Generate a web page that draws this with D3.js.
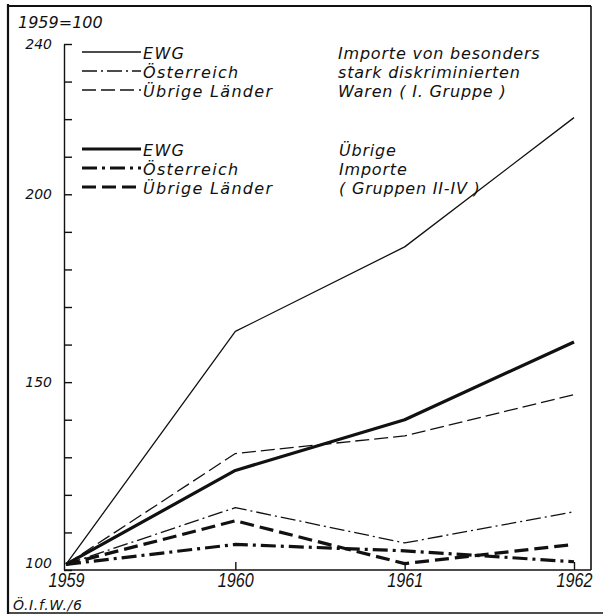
<!doctype html>
<html>
<head>
<meta charset="utf-8">
<title>Importe 1959-1962</title>
<script src="https://d3js.org/d3.v7.min.js"></script>
<style>
  body { margin: 0; background: #fff; }
  text { font-family: "DejaVu Sans", sans-serif; font-style: italic; fill: #111; }
  .legend { font-size: 16px; letter-spacing: 1.3px; }
  .ylab { font-size: 14px; }
</style>
</head>
<body>
<script>

// data, 1959 = 100
var years = [1959, 1960, 1961, 1962];
var ewgI = [101.5, 163.5, 186, 220.4];
var oesterreichI = [101.5, 116.6, 107.2, 115.5];
var uebrigeI = [101.5, 131, 135.7, 146.7];
var ewgII = [101.5, 126.5, 140, 160.7];
var oesterreichII = [101.5, 106.8, 105.1, 102.2];
var uebrigeII = [101.5, 113.1, 101.7, 106.8];

var countryLabels = ['EWG', 'Österreich', 'Übrige Länder'];
var groupOneText = ['Importe von besonders', 'stark diskriminierten', 'Waren ( I. Gruppe )'];
var groupTwoText = ['Übrige', 'Importe', '( Gruppen II-IV )'];
var yLabelValues = [100, 150, 200, 240];

// canvas
var width = 603;
var height = 615;
var axisLeftX = 64;
var axisBottomY = 570;
var plotRight = 591;

var svg = d3.select('body')
            .append('svg')
            .attr('width', width)
            .attr('height', height);

var xScale = d3.scaleLinear()
               .domain([1959, 1962])
               .range([66, 574]);

var yScale = d3.scaleLinear()
               .domain([100, 240])
               .range([axisBottomY, 44]);

// line styles: thin for group I, thick for group II
var thin = 1.3;
var thick = 3.2;
var series = [
  { values: ewgI, w: thin, dash: null },
  { values: oesterreichI, w: thin, dash: '15,4,2,4' },
  { values: uebrigeI, w: thin, dash: '14,5' },
  { values: ewgII, w: thick, dash: null },
  { values: oesterreichII, w: thick, dash: '15,5,3,5' },
  { values: uebrigeII, w: thick, dash: '14,6' }
];

// outer frame
var frame = svg.append('g').attr('stroke', '#111').attr('fill', 'none');
frame.append('line').attr('x1', 8).attr('y1', 4).attr('x2', 8).attr('y2', 614).attr('stroke-width', 2.2);
frame.append('line').attr('x1', 8).attr('y1', 6).attr('x2', plotRight).attr('y2', 6).attr('stroke-width', 2);
frame.append('line').attr('x1', plotRight).attr('y1', 6).attr('x2', plotRight).attr('y2', axisBottomY).attr('stroke-width', 1.6);
frame.append('line').attr('x1', 8).attr('y1', 613).attr('x2', 603).attr('y2', 613).attr('stroke-width', 1.6);

// y axis with inward minor ticks
var yAxis = d3.axisRight(yScale)
              .tickValues(d3.range(100, 241, 10))
              .tickSize(8)
              .tickSizeOuter(0)
              .tickFormat('');

svg.append('g')
   .attr('transform', 'translate(' + axisLeftX + ', 0)')
   .call(yAxis)
   .call(function(g) { g.selectAll('line, path').attr('stroke', '#111').attr('stroke-width', 1.4); });

// y labels
var yLabels = d3.axisLeft(yScale)
                .tickValues(yLabelValues)
                .tickSize(0)
                .tickPadding(12);

svg.append('g')
   .attr('class', 'ylab')
   .attr('transform', 'translate(' + axisLeftX + ', 0)')
   .call(yLabels)
   .call(function(g) {
     g.select('.domain').remove();
     g.selectAll('text').attr('font-family', null).attr('font-size', null).attr('fill', null);
     g.selectAll('.tick').filter(function(d) { return d === 100; }).select('text').attr('dy', '-0.2em');
   });

// x axis line and inward ticks
svg.append('line')
   .attr('x1', axisLeftX).attr('x2', plotRight)
   .attr('y1', axisBottomY).attr('y2', axisBottomY)
   .attr('stroke', '#111').attr('stroke-width', 1.6);

var xTicks = d3.axisTop(xScale)
               .tickValues(years.slice(1))
               .tickSize(8)
               .tickFormat('');

svg.append('g')
   .attr('transform', 'translate(0, ' + axisBottomY + ')')
   .call(xTicks)
   .call(function(g) {
     g.select('.domain').remove();
     g.selectAll('line').attr('stroke', '#111').attr('stroke-width', 1.4);
   });

var xLabels = d3.axisBottom(xScale)
                .tickValues(years)
                .tickSize(0)
                .tickPadding(3)
                .tickFormat(d3.format('d'));

// narrow technical lettering: squeeze the year labels
svg.append('g')
   .attr('transform', 'translate(0, ' + axisBottomY + ')')
   .call(xLabels)
   .call(function(g) {
     g.select('.domain').remove();
     g.selectAll('text')
      .attr('font-family', null).attr('font-size', null).attr('fill', null)
      .style('font-family', '"Liberation Sans", sans-serif')
      .style('font-size', '20px')
      .attr('textLength', 36)
      .attr('lengthAdjust', 'spacingAndGlyphs');
   });

// data lines
var line = d3.line()
             .x(function(d, i) { return xScale(years[i]); })
             .y(function(d) { return yScale(d); });

svg.append('g')
   .selectAll('path')
   .data(series)
   .enter()
   .append('path')
   .attr('d', function(s) { return line(s.values); })
   .attr('fill', 'none')
   .attr('stroke', '#111')
   .attr('stroke-width', function(s) { return s.w; })
   .attr('stroke-dasharray', function(s) { return s.dash; })
   .attr('stroke-linejoin', 'round');

// header and source
svg.append('text').attr('x', 18).attr('y', 28).style('font-size', '16px').text('1959=100');
svg.append('text').attr('x', 13).attr('y', 610).style('font-size', '14px').style('letter-spacing', '0.6px').text('Ö.I.f.W./6');

// legend
var legendBase = [[59, 78, 97], [156, 175, 194]];
var legend = svg.append('g').attr('class', 'legend');

[0, 1].forEach(function(grp) {
  countryLabels.forEach(function(label, i) {
    var s = series[grp * 3 + i];
    var by = legendBase[grp][i];
    legend.append('line')
          .attr('x1', 82).attr('x2', 141)
          .attr('y1', by - 7).attr('y2', by - 7)
          .attr('stroke', '#111')
          .attr('stroke-width', s.w)
          .attr('stroke-dasharray', s.dash);
    legend.append('text').attr('x', 143).attr('y', by).text(label);
  });
});

groupOneText.forEach(function(t, i) {
  legend.append('text').attr('x', 338).attr('y', legendBase[0][i]).style('letter-spacing', '0.8px').text(t);
});
groupTwoText.forEach(function(t, i) {
  legend.append('text').attr('x', 339).attr('y', legendBase[1][i]).style('letter-spacing', '0.8px').text(t);
});

</script>
</body>
</html>
